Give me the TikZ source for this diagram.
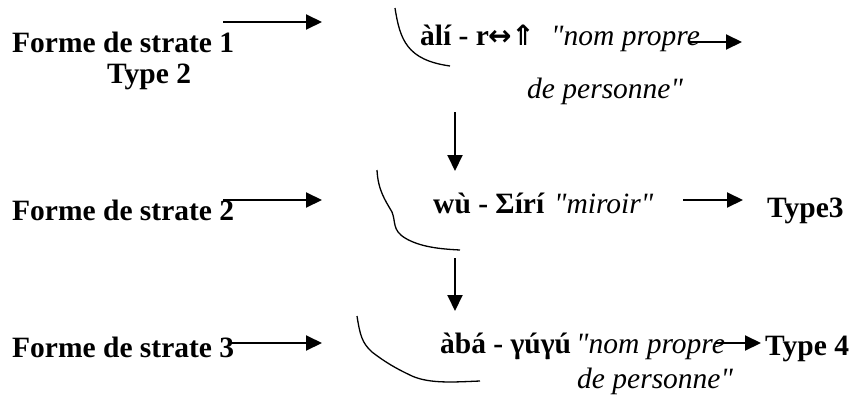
\documentclass[tikz,border=0pt]{standalone}
\usepackage{fontspec}
\setmainfont{Liberation Serif}[Ligatures=TeXOff]
\newfontfamily\symfont{DejaVu Sans}
\usetikzlibrary{arrows.meta}
\begin{document}
\begin{tikzpicture}[x=1pt,y=-1pt,
  lbl/.style={anchor=base west,inner sep=0pt,font=\fontsize{29.5}{31}\selectfont\bfseries},
  itl/.style={anchor=base west,inner sep=0pt,font=\fontsize{29.5}{31}\selectfont\itshape},
  arr/.style={line width=2pt,-{Triangle[length=16pt,width=15pt]}},
  brace/.style={line width=1.3pt}]
\useasboundingbox (0,0) rectangle (856,399);
% row 1
\node[lbl] (f1) at (12,52) {Forme de strate 1};
\node[lbl] (t2) at (107,83) {Type 2};
\node[lbl] (w1) at (420,45) {àlí - r{\symfont\fontsize{28}{30}\selectfont\kern-1pt↔⇑}};
\node[itl] (g1a) at (551,45) {"nom propre};
\node[itl] (g1b) at (527,98) {de personne"};
% row 2
\node[lbl] (f2) at (12,220) {Forme de strate 2};
\node[lbl] (w2) at (433,213) {wù - Σírí};
\node[itl] (g2) at (554,213) {"miroir"};
\node[lbl] (t3) at (767,217) {Type3};
% row 3
\node[lbl] (f3) at (12,357) {Forme de strate 3};
\node[lbl] (w3) at (440,353) {àbá - γúγú};
\node[itl] (g3a) at (576,353) {"nom propre};
\node[itl] (g3b) at (577,388) {de personne"};
\node[lbl] (t4) at (765,355) {Type 4};
% arrow end points
\coordinate (a1s) at (223,22); \coordinate (a1e) at (322,22);
\coordinate (a2s) at (223,200); \coordinate (a2e) at (322,200);
\coordinate (a3s) at (228,343); \coordinate (a3e) at (322,343);
\coordinate (r1s) at (690,42); \coordinate (r1e) at (742,42);
\coordinate (r2s) at (683,200); \coordinate (r2e) at (743,200);
\coordinate (r3s) at (716,343); \coordinate (r3e) at (761,343);
\coordinate (d1s) at (455,112); \coordinate (d1e) at (455,171);
\coordinate (d2s) at (455,258); \coordinate (d2e) at (455,311);
\draw[arr] (a1s) -- (a1e);
\draw[arr] (a2s) -- (a2e);
\draw[arr] (a3s) -- (a3e);
\draw[arr] (r1s) -- (r1e);
\draw[arr] (r2s) -- (r2e);
\draw[arr] (r3s) -- (r3e);
\draw[arr] (d1s) -- (d1e);
\draw[arr] (d2s) -- (d2e);
% brackets
\draw[brace] (395,8) .. controls (400,40) and (407,60) .. (450,66);
\draw[brace] (377,170) .. controls (378,190) and (385,200) .. (392,212)
  .. controls (396,222) and (392,230) .. (405,238)
  .. controls (420,247) and (440,249) .. (460,250);
\draw[brace] (357,316) .. controls (360,335) and (362,343) .. (372,352)
  .. controls (385,362) and (395,368) .. (412,376)
  .. controls (430,384) and (455,382) .. (480,381);
\end{tikzpicture}
\end{document}
